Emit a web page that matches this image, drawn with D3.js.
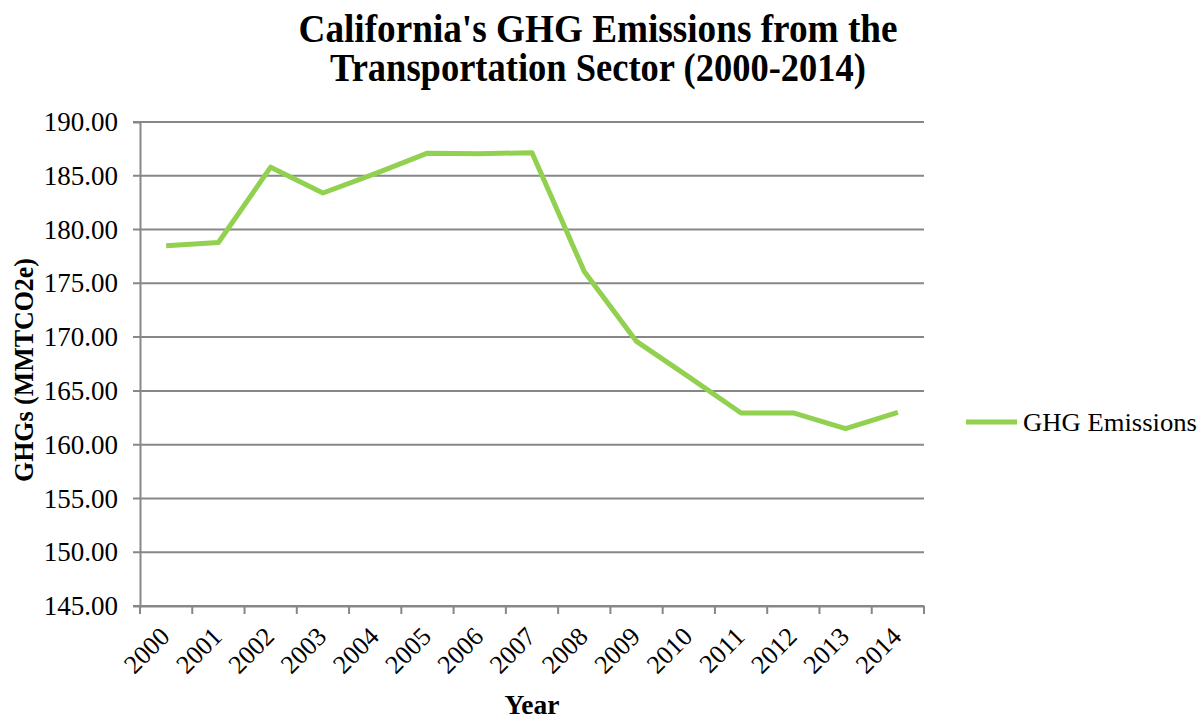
<!DOCTYPE html>
<html>
<head>
<meta charset="utf-8">
<script src="https://cdn.jsdelivr.net/npm/d3@7"></script>
<style>
  body { margin: 0; background: #fff; }
  text { font-family: "Liberation Serif", "Times New Roman", serif; fill: #000; }
</style>
</head>
<body>
<div id="wrapper"></div>
<script>
// data
const years = ["2000", "2001", "2002", "2003", "2004", "2005", "2006", "2007",
  "2008", "2009", "2010", "2011", "2012", "2013", "2014"]
const emissions = [178.5, 178.8, 185.8, 183.4, 185.2, 187.1, 187.05, 187.15,
  176.1, 169.6, 166.3, 162.95, 162.95, 161.5, 163.0]
const yTicks = [145, 150, 155, 160, 165, 170, 175, 180, 185, 190]
const titleLines = ["California's GHG Emissions from the", "Transportation Sector (2000-2014)"]
const seriesName = "GHG Emissions"

const data = years.map((y, i) => ({ year: y, value: emissions[i] }))
const xAccessor = d => d.year
const yAccessor = d => d.value

const dimensions = {
  width: 1204,
  height: 719,
  margin: { top: 122, right: 280, bottom: 113, left: 140 },
}
dimensions.boundedWidth = dimensions.width - dimensions.margin.left - dimensions.margin.right
dimensions.boundedHeight = dimensions.height - dimensions.margin.top - dimensions.margin.bottom

const gridColor = "#878787"
const lineColor = "#92d050"

const svg = d3.select("#wrapper").append("svg")
  .attr("width", dimensions.width)
  .attr("height", dimensions.height)

const bounds = svg.append("g")
  .attr("transform", `translate(${dimensions.margin.left},${dimensions.margin.top})`)

// scales
const xScale = d3.scaleBand()
  .domain(years)
  .range([0, dimensions.boundedWidth])

const yScale = d3.scaleLinear()
  .domain([145, 190])
  .range([dimensions.boundedHeight, 0])

// grid lines
bounds.append("g")
  .selectAll("line")
  .data(yTicks)
  .join("line")
    .attr("x1", -7)
    .attr("x2", dimensions.boundedWidth)
    .attr("y1", d => yScale(d))
    .attr("y2", d => yScale(d))
    .attr("stroke", gridColor)
    .attr("stroke-width", 2)

// y axis
const yAxis = bounds.append("g")
  .call(d3.axisLeft(yScale).tickValues(yTicks).tickFormat(d3.format(".2f")).tickSize(7))
yAxis.select(".domain").attr("stroke", gridColor).attr("stroke-width", 2)
yAxis.selectAll(".tick line").remove()
yAxis.selectAll(".tick text")
  .attr("x", -22)
  .style("font-size", "27px")
  .style("font-family", "Liberation Serif, serif")
  .attr("fill", "#000")

// x axis
const xAxis = bounds.append("g")
  .attr("transform", `translate(0,${dimensions.boundedHeight})`)
  .call(d3.axisBottom(xScale).tickSize(0).tickSizeOuter(0))
xAxis.select(".domain").attr("stroke", gridColor).attr("stroke-width", 2)
xAxis.append("g")
  .selectAll("line")
  .data(d3.range(years.length + 1))
  .join("line")
    .attr("x1", i => i * xScale.step())
    .attr("x2", i => i * xScale.step())
    .attr("y1", 0)
    .attr("y2", 8)
    .attr("stroke", gridColor)
    .attr("stroke-width", 2)
xAxis.selectAll(".tick text")
  .style("font-size", "26px")
  .style("font-family", "Liberation Serif, serif")
  .attr("fill", "#000")
  .attr("text-anchor", "end")
  .attr("dy", 0)
  .attr("transform", "translate(3,30) rotate(-45)")

// line
const lineGenerator = d3.line()
  .x(d => xScale(xAccessor(d)) + xScale.bandwidth() / 2)
  .y(d => yScale(yAccessor(d)))

bounds.append("path")
  .datum(data)
  .attr("d", lineGenerator)
  .attr("fill", "none")
  .attr("stroke", lineColor)
  .attr("stroke-width", 5)
  .attr("stroke-linejoin", "round")

// title
const titleWidths = [599, 536]
svg.append("g")
  .selectAll("text")
  .data(titleLines)
  .join("text")
    .attr("x", 598)
    .attr("y", (d, i) => 42 + i * 39)
    .attr("text-anchor", "middle")
    .attr("textLength", (d, i) => titleWidths[i])
    .attr("lengthAdjust", "spacingAndGlyphs")
    .style("font-size", "39px")
    .style("font-weight", "bold")
    .text(d => d)

// axis titles
svg.append("text")
  .attr("x", 532)
  .attr("y", 714)
  .attr("text-anchor", "middle")
  .attr("textLength", 55)
  .attr("lengthAdjust", "spacingAndGlyphs")
  .style("font-size", "27px")
  .style("font-weight", "bold")
  .text("Year")

svg.append("text")
  .attr("transform", `translate(33,370) rotate(-90)`)
  .attr("text-anchor", "middle")
  .attr("textLength", 224)
  .attr("lengthAdjust", "spacingAndGlyphs")
  .style("font-size", "27px")
  .style("font-weight", "bold")
  .text("GHGs (MMTCO2e)")

// legend
const legend = svg.append("g").attr("transform", "translate(966,422)")
legend.append("line")
  .attr("x1", 0).attr("x2", 51)
  .attr("stroke", lineColor)
  .attr("stroke-width", 5)
legend.append("text")
  .attr("x", 57)
  .attr("y", 9)
  .attr("textLength", 174)
  .attr("lengthAdjust", "spacingAndGlyphs")
  .style("font-size", "26px")
  .text(seriesName)
</script>
</body>
</html>
